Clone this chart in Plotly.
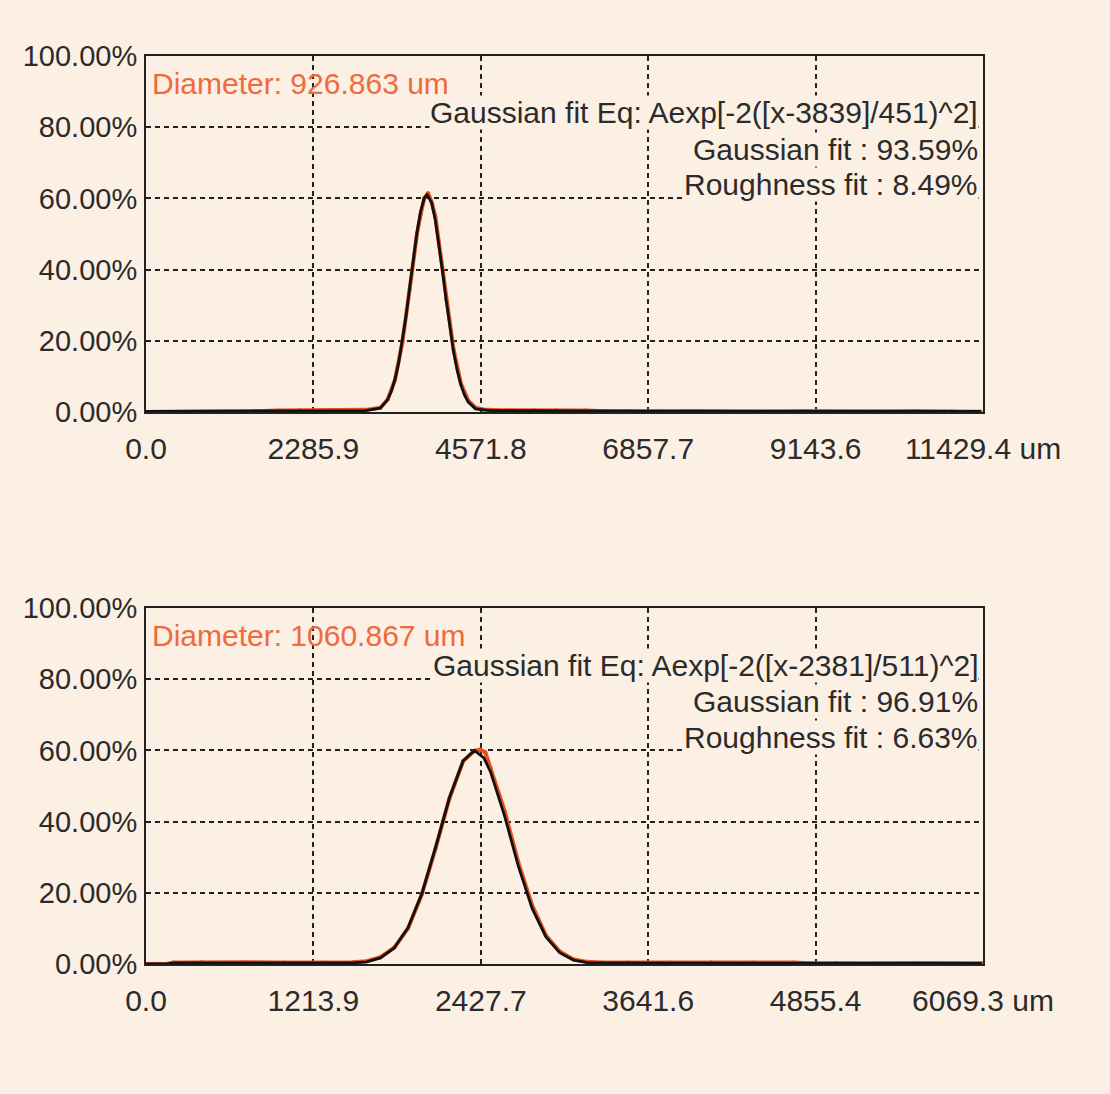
import plotly.graph_objects as go

# ---------------- data ----------------
top_x = [0, 300, 600, 900, 1200, 1500, 1800, 2100, 2400, 2700, 3000, 3200, 3300, 3400,
         3500, 3600, 3700, 3750, 3800, 3850, 3900, 3950, 4000, 4100, 4200, 4300, 4400,
         4500, 4600, 4800, 5000, 5300, 5600, 6000, 6300, 6600, 7000, 7500, 8000, 8500,
         9000, 9500, 10000, 10500, 11000, 11400]
top_y = [0.0, 0.0, 0.1, 0.1, 0.1, 0.2, 0.4, 0.5, 0.5, 0.5, 0.6, 1.2, 3.5, 9.0,
         19.5, 34.5, 50.0, 55.5, 60.0, 61.5, 59.0, 55.0, 47.5, 31.5, 17.5, 8.0, 3.2,
         1.2, 0.7, 0.5, 0.5, 0.5, 0.5, 0.4, 0.2, 0.3, 0.2, 0.3, 0.2, 0.2,
         0.3, 0.2, 0.2, 0.3, 0.2, 0.1]
top_fit_x = [0, 1000, 2000, 3000, 3200, 3300, 3350, 3400, 3450, 3500, 3550, 3600, 3650,
             3700, 3750, 3800, 3839, 3900, 3950, 4000, 4050, 4100, 4150, 4200, 4250,
             4300, 4350, 4400, 4500, 4700, 5000, 6000, 8000, 10000, 11400]
top_fit_y = [0.2, 0.2, 0.3, 0.4, 1.1, 3.5, 5.8, 9.2, 13.8, 19.7, 26.8, 34.8, 42.9,
             50.4, 56.4, 60.1, 61.0, 58.8, 54.0, 47.3, 39.4, 31.2, 23.6, 16.9, 11.6,
             7.6, 4.7, 2.8, 0.9, 0.4, 0.4, 0.3, 0.2, 0.2, 0.2]

bot_x = [0, 150, 200, 400, 700, 1000, 1300, 1500, 1600, 1700, 1800, 1900, 2000, 2100,
         2200, 2300, 2380, 2420, 2460, 2500, 2600, 2700, 2800, 2900, 3000, 3100, 3200,
         3300, 3500, 3800, 4100, 4400, 4700, 4800, 5000, 5300, 5600, 5900, 6060]
bot_y = [0.0, 0.0, 0.4, 0.5, 0.5, 0.4, 0.4, 0.5, 0.8, 1.9, 4.6, 10.0, 19.5, 32.5,
         46.5, 57.0, 59.8, 60.2, 59.5, 55.0, 43.0, 28.5, 16.5, 8.0, 3.5, 1.3, 0.6,
         0.4, 0.4, 0.4, 0.5, 0.4, 0.4, 0.2, 0.3, 0.2, 0.3, 0.3, 0.2]
bot_fit_x = [0, 150, 200, 1000, 1500, 1600, 1700, 1800, 1900, 2000, 2100, 2200, 2300,
             2381, 2450, 2500, 2600, 2700, 2800, 2900, 3000, 3100, 3200, 3400, 4000,
             4800, 5500, 6060]
bot_fit_y = [0.0, 0.0, 0.3, 0.3, 0.3, 0.6, 1.7, 4.5, 10.2, 19.7, 32.8, 46.7, 57.1,
             60.0, 57.9, 53.8, 41.6, 27.5, 15.6, 7.6, 3.2, 1.1, 0.4, 0.3, 0.3,
             0.3, 0.2, 0.2]

top_xticks = [0.0, 2285.9, 4571.8, 6857.7, 9143.6, 11429.4]
top_xlabels = ["0.0", "2285.9", "4571.8", "6857.7", "9143.6", "11429.4 um"]
bot_xticks = [0.0, 1213.9, 2427.7, 3641.6, 4855.4, 6069.3]
bot_xlabels = ["0.0", "1213.9", "2427.7", "3641.6", "4855.4", "6069.3 um"]
yticks = [0, 20, 40, 60, 80, 100]
ylabels = ["0.00%", "20.00%", "40.00%", "60.00%", "80.00%", "100.00%"]

top_texts = ["Diameter: 926.863 um", "Gaussian fit Eq: Aexp[-2([x-3839]/451)^2]",
             "Gaussian fit : 93.59%", "Roughness fit : 8.49%"]
bot_texts = ["Diameter: 1060.867 um", "Gaussian fit Eq: Aexp[-2([x-2381]/511)^2]",
             "Gaussian fit : 96.91%", "Roughness fit : 6.63%"]

# ---------------- styling ----------------
BG = "#fcf0e4"
ORANGE = "#e8501e"
TXT_ORANGE = "#ef6a3c"
DARK = "#2b2b2b"
FONT = "Liberation Sans, Arial, sans-serif"

W, H = 1110, 1094
left, right = 146, 983
panels = [(56, 412), (608, 964)]

fig = go.Figure()

def add_panel(i, xs, ys, fx, fy):
    xa = "x" if i == 0 else "x2"
    ya = "y" if i == 0 else "y2"
    fig.add_trace(go.Scatter(x=xs, y=ys, mode="lines+markers", xaxis=xa, yaxis=ya,
                             line=dict(color=ORANGE, width=4),
                             marker=dict(color=ORANGE, size=4),
                             showlegend=False, hoverinfo="skip"))
    fig.add_trace(go.Scatter(x=fx, y=fy, mode="lines", xaxis=xa, yaxis=ya,
                             line=dict(color="#111111", width=2.8),
                             showlegend=False, hoverinfo="skip"))

add_panel(0, top_x, top_y, top_fit_x, top_fit_y)
add_panel(1, bot_x, bot_y, bot_fit_x, bot_fit_y)

def xaxis_cfg(ticks, labels, anchor):
    return dict(domain=[left / W, right / W], range=[0, ticks[-1]], anchor=anchor,
                tickmode="array", tickvals=ticks, ticktext=labels, automargin=False,
                showgrid=True, gridcolor="#222222", gridwidth=1.5, griddash="5px,4px",
                showline=True, linecolor="#222222", linewidth=2, mirror=True,
                zeroline=False, ticks="", ticklabelstandoff=9,
                tickfont=dict(family=FONT, size=30, color=DARK))

def yaxis_cfg(dom, anchor):
    return dict(domain=dom, range=[0, 100], anchor=anchor,
                tickmode="array", tickvals=yticks, ticktext=ylabels, automargin=False,
                showgrid=True, gridcolor="#222222", gridwidth=1.5, griddash="5px,4px",
                showline=True, linecolor="#222222", linewidth=2, mirror=True,
                zeroline=False, ticks="", ticklabelstandoff=1,
                tickfont=dict(family=FONT, size=29, color=DARK))

doms = [[1 - b / H, 1 - t / H] for (t, b) in panels]

fig.update_layout(
    template="none",
    width=W, height=H,
    margin=dict(l=0, r=0, t=0, b=0, autoexpand=False),
    paper_bgcolor=BG, plot_bgcolor=BG,
    xaxis=xaxis_cfg(top_xticks, top_xlabels, "y"),
    yaxis=yaxis_cfg(doms[0], "x"),
    xaxis2=xaxis_cfg(bot_xticks, bot_xlabels, "y2"),
    yaxis2=yaxis_cfg(doms[1], "x2"),
)

def add_texts(texts, top):
    ys = [top + 27, top + 57, top + 93, top + 129]
    fig.add_annotation(text=texts[0], xref="paper", yref="paper", x=150 / W, y=1 - ys[0] / H,
                       xanchor="left", yanchor="middle", showarrow=False,
                       font=dict(family=FONT, size=30, color=TXT_ORANGE))
    for t, yy in zip(texts[1:], ys[1:]):
        fig.add_annotation(text=t, xref="paper", yref="paper", x=979 / W, y=1 - yy / H,
                           xanchor="right", yanchor="middle", showarrow=False,
                           bgcolor=BG, borderpad=0,
                           font=dict(family=FONT, size=30, color=DARK))

add_texts(top_texts, panels[0][0])
add_texts(bot_texts, panels[1][0])

fig.write_html("out.html", config={"displayModeBar": False},
               post_script="document.body.style.margin='0';document.body.style.background='%s';" % BG)
